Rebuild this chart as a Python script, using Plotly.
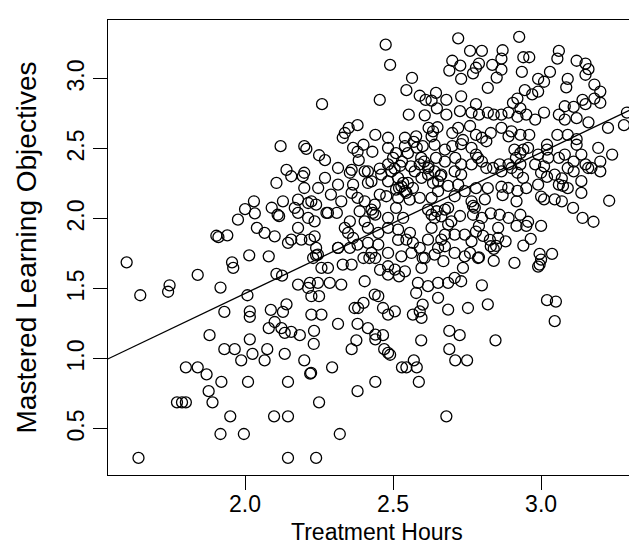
import plotly.graph_objects as go

# ---- data ----
hours_a = [2.12, 2.14, 2.475, 2.49, 2.564, 2.72, 2.70, 2.727, 2.69,
           2.73, 2.545, 2.59, 2.645, 2.61, 2.63, 2.68, 2.73, 2.455, 2.26,
           2.553, 2.607, 2.648, 2.68, 2.726, 2.38, 2.35, 2.337, 2.33, 2.44,
           2.483, 2.54, 2.57, 2.62, 2.635, 2.65, 2.63, 2.72, 2.20,
           2.207, 2.25, 2.27, 2.40, 2.38, 2.384, 2.43, 2.483, 2.51, 2.54,
           2.58, 2.64, 2.675, 2.70, 2.73, 2.595, 2.605, 2.59, 2.62, 2.36,
           2.415, 2.455, 2.483, 2.505, 2.53, 2.56, 2.645, 2.675, 2.71, 2.73,
           2.20]
objectives_a = [2.52, 2.35, 3.245, 3.10, 3.007, 3.29, 3.13, 3.095, 3.06,
                3.0, 2.92, 2.88, 2.90, 2.85, 2.845, 2.85, 2.876, 2.85, 2.82,
                2.745, 2.74, 2.79, 2.745, 2.77, 2.67, 2.65, 2.614, 2.58, 2.60,
                2.58, 2.58, 2.55, 2.65, 2.626, 2.655, 2.59, 2.65, 2.52,
                2.50, 2.455, 2.42, 2.53, 2.48, 2.42, 2.48, 2.507, 2.47, 2.52,
                2.51, 2.53, 2.495, 2.52, 2.535, 2.436, 2.41, 2.39, 2.376, 2.35,
                2.34, 2.36, 2.39, 2.36, 2.41, 2.376, 2.436, 2.41, 2.436, 2.39,
                2.33]

hours_b = [2.926, 2.76, 2.80, 2.87, 2.94, 2.96, 3.06, 3.055, 3.12, 3.15,
           3.16, 3.15, 2.79, 2.78, 2.77, 2.835, 2.866, 2.866, 2.85, 2.935,
           2.99, 3.01, 3.03, 3.09, 3.085, 3.18, 3.20, 3.20, 3.18, 3.14,
           3.15, 3.11, 3.08, 3.06, 2.945, 2.97, 2.99, 2.92, 2.93, 2.89,
           2.866, 2.84, 2.82, 2.79, 2.765, 2.78, 2.92, 2.95, 2.98, 3.01,
           3.08, 3.12, 3.16, 3.29, 3.28, 3.055, 3.09, 3.12, 3.12, 3.136,
           3.08, 3.06, 3.02, 3.02, 2.99, 2.96, 2.93, 2.90, 2.89, 2.866,
           2.83, 2.815, 2.80, 2.78, 2.765, 2.78, 2.765, 2.80, 2.91, 2.93,
           2.94, 2.915, 2.90, 2.86, 2.89, 2.93, 2.98, 3.01, 3.09, 3.17,
           3.20, 3.24, 3.11, 3.15, 2.815]
objectives_b = [3.30, 3.20, 3.20, 3.205, 3.155, 3.155, 3.20, 3.145, 3.13, 3.11,
                3.07, 3.03, 3.11, 3.08, 3.04, 3.10, 3.145, 3.066, 3.01, 3.05,
                3.0, 2.98, 3.05, 3.0, 2.94, 2.96, 2.91, 2.83, 2.86, 2.85,
                2.82, 2.80, 2.805, 2.745, 2.92, 2.89, 2.91, 2.86, 2.79, 2.76,
                2.745, 2.745, 2.76, 2.745, 2.76, 2.82, 2.73, 2.745, 2.71, 2.76,
                2.71, 2.72, 2.69, 2.76, 2.67, 2.60, 2.60, 2.57, 2.53, 2.46,
                2.46, 2.436, 2.53, 2.495, 2.46, 2.60, 2.60, 2.626, 2.59, 2.65,
                2.614, 2.555, 2.58, 2.60, 2.507, 2.46, 2.39, 2.41, 2.495, 2.47,
                2.495, 2.436, 2.364, 2.39, 2.39, 2.39, 2.39, 2.376, 2.364, 2.364,
                2.41, 2.46, 2.41, 2.39, 2.364]

hours_c = [2.106, 2.128, 2.09, 2.11, 2.115, 2.03, 2.0, 2.033, 1.976, 2.04,
           2.066, 2.10, 1.903, 1.91, 1.94, 1.60, 2.014, 2.08, 1.956, 1.96,
           1.84, 1.917, 2.106, 2.125, 1.646, 1.745, 1.74, 2.008, 1.93, 2.016,
           2.016, 2.087, 2.128, 2.14, 2.10]
objectives_c = [2.257, 2.126, 2.08, 2.03, 2.02, 2.126, 2.07, 2.04, 1.995, 1.936,
                1.90, 1.876, 1.88, 1.87, 1.883, 1.69, 1.74, 1.733, 1.69, 1.65,
                1.60, 1.51, 1.607, 1.595, 1.455, 1.526, 1.48, 1.455, 1.336, 1.34,
                1.30, 1.35, 1.336, 1.39, 1.264]

hours_d = [1.88, 2.08, 2.123, 2.134, 2.016, 1.93, 1.965, 1.987, 2.025, 2.075,
           2.066, 2.134, 1.80, 1.84, 1.87, 1.92, 2.01, 2.145, 1.877, 1.89,
           1.77, 1.787, 1.80, 1.95, 2.098, 2.145, 1.917, 1.996, 1.64, 2.145]
objectives_d = [1.17, 1.22, 1.22, 1.186, 1.14, 1.07, 1.07, 0.99, 1.036, 1.07,
                0.99, 1.036, 0.94, 0.94, 0.89, 0.836, 0.836, 0.836, 0.77, 0.69,
                0.69, 0.69, 0.69, 0.59, 0.59, 0.59, 0.464, 0.464, 0.293, 0.293]

hours_e = [2.156, 2.185, 2.233, 2.232, 2.314, 2.38, 2.415, 2.44, 2.466, 2.44,
           2.376, 2.36, 2.47, 2.483, 2.49, 2.595, 2.69, 2.725, 2.69, 2.71,
           2.75, 2.57, 2.53, 2.545, 2.58, 2.20, 2.22, 2.223, 2.294, 2.44,
           2.587, 2.38, 2.25, 2.68, 2.32, 2.24, 3.046, 2.846]
objectives_e = [1.193, 1.17, 1.20, 1.107, 1.25, 1.25, 1.22, 1.174, 1.17, 1.14,
                1.133, 1.07, 1.07, 1.043, 1.03, 1.133, 1.20, 1.17, 1.07, 0.99,
                0.99, 0.99, 0.94, 0.94, 0.94, 0.99, 0.895, 0.90, 0.94, 0.836,
                0.836, 0.77, 0.69, 0.59, 0.464, 0.293, 1.27, 1.133]

hours_f = [2.866, 2.92, 3.0, 3.02, 3.046, 3.07, 3.11, 3.20, 3.136, 3.136,
           3.09, 3.06, 3.046, 3.07, 3.01, 3.0, 2.99, 2.95, 2.92, 2.917,
           2.87, 2.866, 2.82, 2.81, 2.78, 2.765, 2.776, 3.23, 3.14, 3.177,
           2.77, 2.80, 2.83, 2.86, 2.89, 2.93, 2.956, 2.95, 2.917, 2.855,
           2.79, 2.78, 3.0, 2.965, 2.94, 2.88, 2.855, 2.827, 2.83, 2.84,
           2.765, 2.76, 2.79, 2.84, 2.91, 2.995, 3.037, 3.0, 2.995, 2.99,
           2.80, 2.82, 3.02, 3.05]
objectives_f = [2.34, 2.33, 2.33, 2.30, 2.316, 2.29, 2.34, 2.34, 2.27, 2.186,
                2.22, 2.245, 2.14, 2.126, 2.14, 2.16, 2.245, 2.22, 2.20, 2.126,
                2.17, 2.23, 2.22, 2.14, 2.22, 2.126, 2.08, 2.13, 2.007, 1.98,
                2.03, 2.007, 2.04, 2.03, 2.007, 2.03, 1.98, 1.95, 1.95, 1.936,
                1.95, 1.91, 1.95, 1.857, 1.81, 1.84, 1.864, 1.85, 1.805, 1.786,
                1.84, 1.757, 1.726, 1.70, 1.686, 1.75, 1.75, 1.71, 1.674, 1.66,
                1.526, 1.39, 1.42, 1.41]

hours_g = [2.156, 2.195, 2.20, 2.27, 2.314, 2.354, 2.365, 2.36, 2.404, 2.427,
           2.46, 2.483, 2.494, 2.517, 2.528, 2.54, 2.55, 2.567, 2.573, 2.596,
           2.618, 2.64, 2.652, 2.663, 2.708, 2.73, 2.72, 2.742, 2.708, 2.652,
           2.63, 2.59, 2.556, 2.517, 2.477, 2.455, 2.438, 2.404, 2.325, 2.29,
           2.179, 2.224, 2.24, 2.168, 2.275, 2.31, 2.213, 2.235, 2.179, 2.156,
           2.19, 2.219, 2.235, 2.24, 2.246, 2.24, 2.23, 2.314, 2.354, 2.365,
           2.337, 2.354, 2.387, 2.404, 2.415, 2.45, 2.427, 2.44, 2.483, 2.517,
           2.545, 2.567, 2.59, 2.618, 2.663, 2.675, 2.64, 2.607, 2.596, 2.67,
           2.708, 2.742, 2.73, 2.708, 2.686, 2.652, 2.618, 2.584, 2.578, 2.60,
           2.59, 2.567, 2.596, 2.686, 2.506, 2.483, 2.45, 2.438, 2.40, 2.37,
           2.404, 2.325, 2.286, 2.246, 2.219, 2.179, 2.224, 2.25, 2.224,
           2.258, 2.483, 2.52, 2.54, 2.506, 2.483, 2.44, 2.42, 2.427, 2.36,
           2.33, 2.28, 2.258, 2.38, 2.415, 2.45, 2.483, 2.528, 2.562, 2.63,
           2.686, 2.52, 2.534, 2.545, 2.51, 2.618, 2.63, 2.647, 2.663, 2.675,
           2.64, 2.708, 2.742, 2.675, 2.697]
objectives_g = [2.305, 2.305, 2.221, 2.293, 2.245, 2.33, 2.245, 2.186, 2.34, 2.269,
                2.317, 2.269, 2.34, 2.293, 2.233, 2.198, 2.257, 2.221, 2.34, 2.293,
                2.317, 2.34, 2.269, 2.317, 2.34, 2.317, 2.245, 2.198, 2.162, 2.198,
                2.15, 2.15, 2.138, 2.15, 2.162, 2.174, 2.102, 2.126, 2.126, 2.174,
                2.138, 2.126, 2.102, 2.079, 2.043, 2.043, 2.007, 1.983, 1.936, 1.852,
                1.852, 1.852, 1.876, 1.793, 1.745, 1.74, 1.721, 1.793, 1.793, 1.864,
                1.936, 1.983, 2.055, 1.983, 1.936, 1.90, 2.067, 2.031, 2.007, 1.924,
                1.852, 1.829, 1.793, 1.852, 1.852, 1.805, 1.745, 1.721, 1.65, 1.698,
                1.757, 1.733, 1.555, 1.579, 1.543, 1.543, 1.52, 1.543, 1.471, 1.388,
                1.34, 1.317, 1.293, 1.352, 1.34, 1.317, 1.448, 1.46, 1.40, 1.364,
                1.555, 1.531, 1.543, 1.543, 1.543, 1.531, 1.448, 1.448, 1.317,
                1.317, 1.602, 1.59, 1.626, 1.638, 1.662, 1.721, 1.721, 1.757, 1.674,
                1.674, 1.65, 1.65, 1.817, 1.829, 1.817, 1.757, 1.733, 1.757, 1.936,
                1.96, 2.221, 2.257, 2.186, 2.21, 2.067, 2.031, 2.055, 2.019, 2.067,
                2.007, 1.888, 1.888, 1.888, 1.983]

# extra points in the densest part of the cloud
hours_h = [2.50, 2.524, 2.55, 2.578, 2.60, 2.70, 2.736, 2.76, 2.618, 2.66,
           2.635, 2.686, 2.51, 2.534, 2.483, 2.557, 2.517, 2.686, 2.726, 2.77,
           2.804, 2.848, 2.787, 2.736, 2.415, 2.38, 2.432, 2.348, 2.314, 2.28,
           2.213, 2.247, 2.40, 2.456, 2.60, 2.652, 2.889, 2.939, 2.956, 3.024,
           3.074, 3.108, 3.159, 3.193, 3.226, 2.905, 2.82, 2.787, 2.838, 2.365,
           2.314, 2.179, 2.145, 2.213, 2.382, 2.652, 2.753, 2.466]
objectives_h = [2.436, 2.38, 2.47, 2.59, 2.52, 2.614, 2.564, 2.664, 2.364, 2.307,
                2.257, 2.236, 2.079, 2.007, 1.936, 1.90, 1.85, 2.079, 2.021, 2.093,
                1.879, 1.807, 1.721, 1.65, 2.257, 2.15, 2.043, 1.90, 1.793, 2.043,
                2.114, 2.221, 1.721, 1.636, 1.721, 1.793, 2.221, 2.293, 2.507, 2.436,
                2.236, 2.079, 2.364, 2.507, 2.65, 2.829, 2.936, 2.436, 2.364, 2.507,
                2.364, 2.043, 1.829, 1.507, 1.364, 1.436, 1.364, 1.364]

treatment_hours = (hours_a + hours_b + hours_c + hours_d + hours_e + hours_f
                   + hours_g + hours_h)
mastered_objectives = (objectives_a + objectives_b + objectives_c + objectives_d
                       + objectives_e + objectives_f + objectives_g + objectives_h)

# fitted regression line (intercept, slope)
fit_intercept = -0.549
fit_slope = 1.008

x_range = [1.537, 3.351]
y_range = [0.171, 3.421]
x_ticks = [2.0, 2.5, 3.0]
x_tick_labels = ["2.0", "2.5", "3.0"]
y_ticks = [0.5, 1.0, 1.5, 2.0, 2.5, 3.0]
y_tick_labels = ["0.5", "1.0", "1.5", "2.0", "2.5", "3.0"]

FONT = "Liberation Sans, Arial, Helvetica, sans-serif"

fig = go.Figure()
fig.add_trace(go.Scatter(
    x=treatment_hours, y=mastered_objectives, mode="markers",
    marker=dict(symbol="circle-open", size=11, color="black",
                line=dict(width=1.3, color="black")),
    showlegend=False, hoverinfo="x+y"))

line_x = [x_range[0] - 0.05, x_range[1] + 0.05]
line_y = [fit_intercept + fit_slope * v for v in line_x]
fig.add_trace(go.Scatter(x=line_x, y=line_y, mode="lines",
                         line=dict(color="black", width=1.3),
                         showlegend=False, hoverinfo="skip"))

axis_common = dict(showgrid=False, zeroline=False, showline=True, mirror=True,
                   linecolor="black", linewidth=1, ticks="outside", ticklen=14,
                   tickwidth=1, tickcolor="black",
                   tickfont=dict(family=FONT, size=23, color="black"))

fig.update_layout(
    width=637, height=545,
    margin=dict(l=100, r=0, t=12, b=78),
    paper_bgcolor="white", plot_bgcolor="white",
    xaxis=dict(range=x_range, tickvals=x_ticks, ticktext=x_tick_labels,
               ticklabelstandoff=-6, **axis_common),
    yaxis=dict(range=y_range, tickvals=y_ticks, ticktext=y_tick_labels,
               tickangle=-90, ticklabelstandoff=0, **axis_common),
    annotations=[
        dict(text="Treatment Hours", xref="paper", yref="paper", x=0.5, y=0,
             xanchor="center", yanchor="top", yshift=-42, showarrow=False,
             font=dict(family=FONT, size=23, color="black")),
        dict(text="Mastered Learning Objectives", xref="paper", yref="paper",
             x=0, y=0.5, xanchor="center", yanchor="middle", xshift=-82,
             textangle=-90, showarrow=False,
             font=dict(family=FONT, size=28, color="black")),
    ],
)

fig.write_html("out.html")
